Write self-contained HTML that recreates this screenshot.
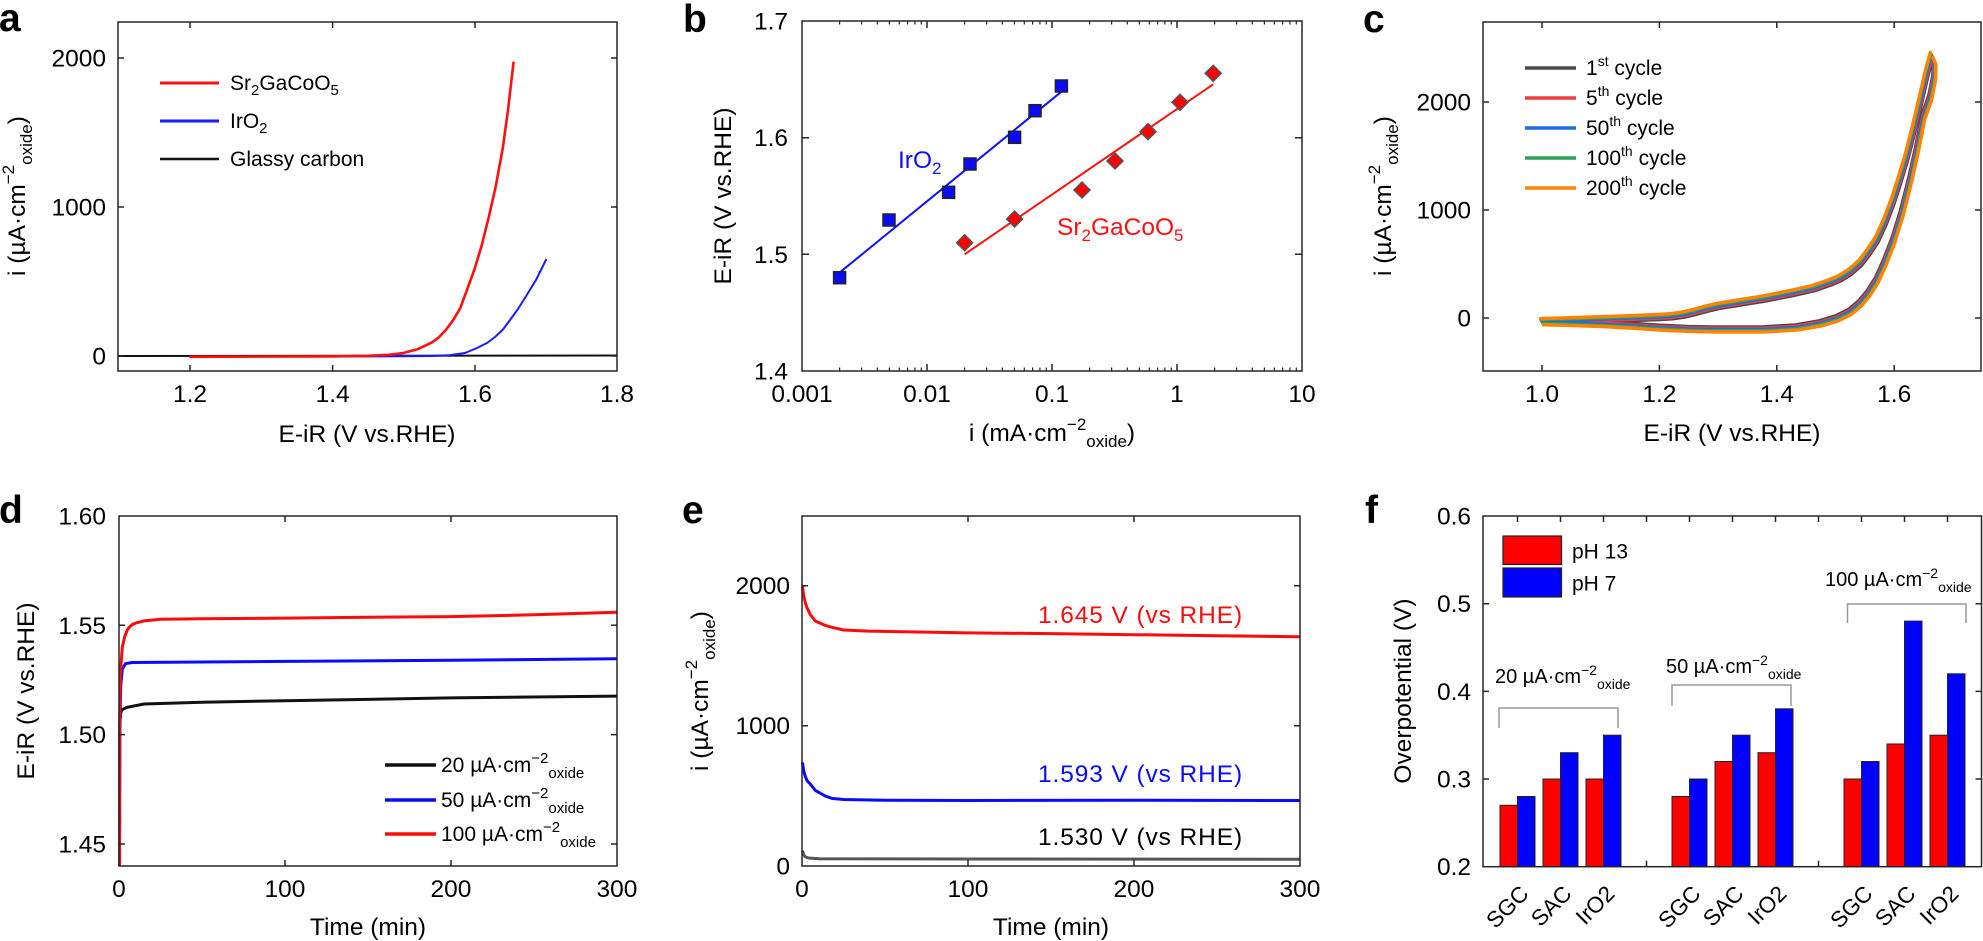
<!DOCTYPE html>
<html><head><meta charset="utf-8"><style>
html,body{margin:0;padding:0;background:#fff;}
svg{display:block;font-family:"Liberation Sans",Arial,sans-serif;}
</style></head><body>
<svg width="1983" height="941" viewBox="0 0 1983 941" xmlns="http://www.w3.org/2000/svg">
<rect width="1983" height="941" fill="#fff"/>
<defs>
<path id="an" fill="none" d="M1542 321.2 L1571.4 320.4 L1600.7 319.3 L1630.1 318.3 L1659.4 317.1 L1671.1 316.4 L1682.9 314.8 L1694.6 312.1 L1706.4 308.8 L1718.1 306.1 L1740 302.5 L1763.3 298.8 L1790 293.5 L1813.3 288.3 L1830 282.5 L1840 278.3 L1850 272 L1860 263.3 L1868 253 L1876.7 240 L1885 222 L1893.3 200 L1900 179 L1906.7 156.7 L1912 136 L1916.7 116.7 L1922 94 L1926.7 73.3 L1931.7 55"/>
<path id="ca" fill="none" d="M1931.7 55 L1934.5 62 L1934 78 L1930 98 L1923.3 116.7 L1916.7 150 L1910 180 L1901.7 213 L1893.3 240 L1885 261.7 L1876.7 280 L1868.3 293.3 L1860 303.3 L1850 311.7 L1836.7 318.3 L1820 323.3 L1796.7 327.3 L1763.3 329.3 L1713.3 329.3 L1688.8 328.8 L1659.4 327.5 L1630.1 325.5 L1600.7 323.9 L1571.4 322.9 L1542 322.1"/>
</defs>

<!-- panel letters -->
<g font-size="39" font-weight="bold" fill="#000">
<text x="-1" y="31">a</text>
<text x="683" y="32">b</text>
<text x="1363" y="32">c</text>
<text x="-1" y="523">d</text>
<text x="682" y="523">e</text>
<text x="1365" y="523">f</text>
</g>

<!-- ================= Panel a ================= -->
<g fill="none" stroke-linejoin="round">
<path d="M118 356 L617 355.5" stroke="#111" stroke-width="2"/>
<path d="M189 356.5 L400 356.3 L430 356 L449 355.2 L465 353 L477 348 L487 343 L495 337 L503 329.5 L510 320 L518 309 L525.5 297 L536 280 L546.4 259" stroke="#1a1aff" stroke-width="2"/>
<path d="M189.3 356.8 L332 356.4 L367.6 355.8 L388.9 354.8 L403.2 353 L417.4 349.3 L431.7 342.6 L438.8 337.4 L445.9 329.9 L453.1 320.2 L460.2 308.3 L467.3 289 L474.4 269.6 L481.6 245.7 L488.7 217.4 L495.8 186.1 L502.9 147.4 L508 110 L513.6 61.7" stroke="#ff1010" stroke-width="2.6"/>
</g>
<rect x="118" y="22" width="499" height="349" fill="none" stroke="#262626" stroke-width="1.5"/>
<path d="M190 371v-6 M332.6 371v-6 M475 371v-6 M190 22v6 M332.6 22v6 M475 22v6 M118 58h6 M118 207h6 M118 356h6 M617 58h-6 M617 207h-6 M617 356h-6" stroke="#262626" stroke-width="1.5"/>
<path d="M160 83h59" stroke="#ff1010" stroke-width="3"/>
<path d="M160 121h59" stroke="#1a1aff" stroke-width="3"/>
<path d="M160 159h59" stroke="#111" stroke-width="2.5"/>
<g font-size="21" fill="#000">
<text x="230" y="90">Sr<tspan font-size="15" dy="5">2</tspan><tspan dy="-5">GaCoO</tspan><tspan font-size="15" dy="5">5</tspan></text>
<text x="230" y="128">IrO<tspan font-size="15" dy="5">2</tspan></text>
<text x="230" y="166">Glassy carbon</text>
</g>
<g font-size="24.5" fill="#000">
<g text-anchor="end">
<text x="106" y="66.5">2000</text>
<text x="106" y="215.5">1000</text>
<text x="106" y="364.5">0</text>
</g>
<g text-anchor="middle">
<text x="190" y="402">1.2</text>
<text x="332.6" y="402">1.4</text>
<text x="475" y="402">1.6</text>
<text x="617" y="402">1.8</text>
<text x="367" y="442">E-iR (V vs.RHE)</text>
<text transform="translate(25,196) rotate(-90)">i (µA·cm<tspan font-size="17" dy="-11">−2</tspan><tspan font-size="17" dy="18">oxide</tspan><tspan dy="-7">)</tspan></text>
</g>
</g>

<!-- ================= Panel b ================= -->
<path d="M840.7 271.7 L1061.4 91.7" stroke="#1010ff" stroke-width="2"/>
<path d="M964.6 254.3 L1213.2 84.3" stroke="#ff1010" stroke-width="2"/>
<g fill="#0a0aff" stroke="#222" stroke-width="1.5">
<rect x="833.6" y="271.7" width="12" height="12"/>
<rect x="883" y="214" width="12" height="12"/>
<rect x="942.6" y="186.3" width="12" height="12"/>
<rect x="964" y="158" width="12" height="12"/>
<rect x="1008.6" y="131.3" width="12" height="12"/>
<rect x="1029" y="104.7" width="12" height="12"/>
<rect x="1055.4" y="80" width="12" height="12"/>
</g>
<g fill="#ff0000" stroke="#555" stroke-width="1.5">
<polygon points="964.6,234.7 972.6,242.7 964.6,250.7 956.6,242.7"/>
<polygon points="1014.6,211 1022.6,219 1014.6,227 1006.6,219"/>
<polygon points="1082,182 1090,190 1082,198 1074,190"/>
<polygon points="1115,153 1123,161 1115,169 1107,161"/>
<polygon points="1148,123.7 1156,131.7 1148,139.7 1140,131.7"/>
<polygon points="1180,94.3 1188,102.3 1180,110.3 1172,102.3"/>
<polygon points="1213.2,65.3 1221.2,73.3 1213.2,81.3 1205.2,73.3"/>
</g>
<rect x="802" y="21" width="500" height="350" fill="none" stroke="#262626" stroke-width="1.5"/>
<path d="M927 371v-7 M1052 371v-7 M1177 371v-7 M927 21v7 M1052 21v7 M1177 21v7 M802 137.7h7 M802 254.3h7 M1302 137.7h-7 M1302 254.3h-7" stroke="#262626" stroke-width="1.5"/>
<path stroke="#262626" stroke-width="1.2" d="M839.6 371v-3.5M861.6 371v-3.5M877.3 371v-3.5M889.4 371v-3.5M899.3 371v-3.5M907.6 371v-3.5M914.9 371v-3.5M921.3 371v-3.5M964.6 371v-3.5M986.6 371v-3.5M1002.3 371v-3.5M1014.4 371v-3.5M1024.3 371v-3.5M1032.6 371v-3.5M1039.9 371v-3.5M1046.3 371v-3.5M1089.6 371v-3.5M1111.6 371v-3.5M1127.3 371v-3.5M1139.4 371v-3.5M1149.3 371v-3.5M1157.6 371v-3.5M1164.9 371v-3.5M1171.3 371v-3.5M1214.6 371v-3.5M1236.6 371v-3.5M1252.3 371v-3.5M1264.4 371v-3.5M1274.3 371v-3.5M1282.6 371v-3.5M1289.9 371v-3.5M1296.3 371v-3.5 M839.6 21v3.5M861.6 21v3.5M877.3 21v3.5M889.4 21v3.5M899.3 21v3.5M907.6 21v3.5M914.9 21v3.5M921.3 21v3.5M964.6 21v3.5M986.6 21v3.5M1002.3 21v3.5M1014.4 21v3.5M1024.3 21v3.5M1032.6 21v3.5M1039.9 21v3.5M1046.3 21v3.5M1089.6 21v3.5M1111.6 21v3.5M1127.3 21v3.5M1139.4 21v3.5M1149.3 21v3.5M1157.6 21v3.5M1164.9 21v3.5M1171.3 21v3.5M1214.6 21v3.5M1236.6 21v3.5M1252.3 21v3.5M1264.4 21v3.5M1274.3 21v3.5M1282.6 21v3.5M1289.9 21v3.5M1296.3 21v3.5"/>
<g font-size="24.5">
<text x="898" y="168" fill="#1010ff">IrO<tspan font-size="17" dy="6">2</tspan></text>
<text x="1057" y="235" fill="#ff1010">Sr<tspan font-size="17" dy="6">2</tspan><tspan dy="-6">GaCoO</tspan><tspan font-size="17" dy="6">5</tspan></text>
<g text-anchor="end" fill="#000">
<text x="788" y="29.5">1.7</text>
<text x="788" y="146">1.6</text>
<text x="788" y="263">1.5</text>
<text x="788" y="379.5">1.4</text>
</g>
<g text-anchor="middle" fill="#000">
<text x="802" y="402">0.001</text>
<text x="927" y="402">0.01</text>
<text x="1052" y="402">0.1</text>
<text x="1177" y="402">1</text>
<text x="1302" y="402">10</text>
<text x="1052" y="441">i (mA·cm<tspan font-size="17" dy="-11">−2</tspan><tspan font-size="17" dy="17">oxide</tspan><tspan dy="-6">)</tspan></text>
<text transform="translate(731,196) rotate(-90)">E-iR (V vs.RHE)</text>
</g>
</g>

<!-- ================= Panel c ================= -->
<g fill="none" stroke-width="3" stroke-linejoin="round" stroke-linecap="round">
<use href="#an" stroke="#4a4a4a" transform="translate(1.4,2.6)"/>
<use href="#ca" stroke="#4a4a4a" transform="translate(-1.4,-2.6)"/>
<use href="#an" stroke="#ee3d40" transform="translate(0.7,1.3)"/>
<use href="#ca" stroke="#ee3d40" transform="translate(-0.7,-1.3)"/>
<use href="#an" stroke="#1f6be6"/>
<use href="#ca" stroke="#1f6be6"/>
<use href="#an" stroke="#2ca25c" transform="translate(-0.7,-1.3)"/>
<use href="#ca" stroke="#2ca25c" transform="translate(0.7,1.3)"/>
<use href="#an" stroke="#ff8300" stroke-width="3.5" transform="translate(-1.4,-2.6)"/>
<use href="#ca" stroke="#ff8300" stroke-width="3.5" transform="translate(1.4,2.6)"/>
</g>
<rect x="1483" y="22" width="498" height="349" fill="none" stroke="#262626" stroke-width="1.5"/>
<path d="M1542 371v-6 M1659.4 371v-6 M1776.8 371v-6 M1894.2 371v-6 M1542 22v6 M1659.4 22v6 M1776.8 22v6 M1894.2 22v6 M1483 102h6 M1483 210h6 M1483 318h6 M1981 102h-6 M1981 210h-6 M1981 318h-6" stroke="#262626" stroke-width="1.5"/>
<g stroke-width="3.5">
<path d="M1525 68h51" stroke="#4a4a4a"/>
<path d="M1525 98h51" stroke="#ee3d40"/>
<path d="M1525 128h51" stroke="#1f6be6"/>
<path d="M1525 158h51" stroke="#2ca25c"/>
<path d="M1525 188h51" stroke="#ff8300"/>
</g>
<g font-size="21" fill="#000">
<text x="1586" y="75">1<tspan font-size="14" dy="-9">st</tspan><tspan dy="9"> cycle</tspan></text>
<text x="1586" y="105">5<tspan font-size="14" dy="-9">th</tspan><tspan dy="9"> cycle</tspan></text>
<text x="1586" y="135">50<tspan font-size="14" dy="-9">th</tspan><tspan dy="9"> cycle</tspan></text>
<text x="1586" y="165">100<tspan font-size="14" dy="-9">th</tspan><tspan dy="9"> cycle</tspan></text>
<text x="1586" y="195">200<tspan font-size="14" dy="-9">th</tspan><tspan dy="9"> cycle</tspan></text>
</g>
<g font-size="24.5" fill="#000">
<g text-anchor="end">
<text x="1471" y="110.5">2000</text>
<text x="1471" y="218.5">1000</text>
<text x="1471" y="326.5">0</text>
</g>
<g text-anchor="middle">
<text x="1542" y="402">1.0</text>
<text x="1659.4" y="402">1.2</text>
<text x="1776.8" y="402">1.4</text>
<text x="1894.2" y="402">1.6</text>
<text x="1732" y="441">E-iR (V vs.RHE)</text>
<text transform="translate(1391,196) rotate(-90)">i (µA·cm<tspan font-size="17" dy="-11">−2</tspan><tspan font-size="17" dy="18">oxide</tspan><tspan dy="-7">)</tspan></text>
</g>
</g>

<!-- ================= Panel d ================= -->
<g fill="none" stroke-width="3" stroke-linejoin="round">
<path stroke="#111" d="M119.5 866 L119.8 723.7 L120.7 712.7 L122.3 709.5 L127.3 707.3 L143.9 704 L202 702.2 L285 700.7 L451 697.9 L617 696.1"/>
<path stroke="#0a0aff" d="M119.5 866 L119.8 734.6 L120.7 686.5 L122.3 669 L125.6 663.6 L132.3 662.5 L202 662 L285 661.4 L451 660.3 L617 658.7"/>
<path stroke="#ff0a0a" d="M119.5 866 L119.5 734.6 L120 700 L120.7 669 L122.3 647.2 L124.8 636.2 L127.3 630 L129 627.5 L132.3 624.5 L135.6 623.1 L143.9 620.9 L160.5 619.2 L202 618.7 L285 618.1 L368 617.2 L451 616.6 L534 614.8 L617 612.2"/>
</g>
<rect x="119" y="516" width="498" height="350" fill="none" stroke="#262626" stroke-width="1.5"/>
<path d="M285 866v-6 M451 866v-6 M285 516v6 M451 516v6 M119 625.3h6 M119 734.6h6 M119 844h6 M617 625.3h-6 M617 734.6h-6 M617 844h-6" stroke="#262626" stroke-width="1.5"/>
<g stroke-width="3.5">
<path d="M385 765h51" stroke="#111"/>
<path d="M385 800h51" stroke="#0a0aff"/>
<path d="M385 834h51" stroke="#ff0a0a"/>
</g>
<g font-size="21" fill="#000">
<text x="441" y="772">20 µA·cm<tspan font-size="15" dy="-9">−2</tspan><tspan font-size="15" dy="15">oxide</tspan></text>
<text x="441" y="807">50 µA·cm<tspan font-size="15" dy="-9">−2</tspan><tspan font-size="15" dy="15">oxide</tspan></text>
<text x="441" y="841">100 µA·cm<tspan font-size="15" dy="-9">−2</tspan><tspan font-size="15" dy="15">oxide</tspan></text>
</g>
<g font-size="24.5" fill="#000">
<g text-anchor="end">
<text x="106" y="524.5">1.60</text>
<text x="106" y="633.8">1.55</text>
<text x="106" y="743">1.50</text>
<text x="106" y="852.5">1.45</text>
</g>
<g text-anchor="middle">
<text x="119" y="897">0</text>
<text x="285" y="897">100</text>
<text x="451" y="897">200</text>
<text x="617" y="897">300</text>
<text x="368" y="935">Time (min)</text>
<text transform="translate(34,691) rotate(-90)">E-iR (V vs.RHE)</text>
</g>
</g>

<!-- ================= Panel e ================= -->
<g fill="none" stroke-width="3" stroke-linejoin="round">
<path stroke="#ff0a0a" d="M802.5 586 L803.7 595.8 L805.3 602.8 L807 607.7 L810.3 614.7 L815.3 621 L825.2 625.4 L831.9 627.3 L843.5 630 L868.4 631.1 L968 632.9 L1051 633.6 L1134 634.7 L1217 635.7 L1300 636.7"/>
<path stroke="#0a0aff" d="M802.5 762.4 L803.7 770.8 L805.3 776.4 L807 780.6 L810.3 784.1 L815.3 790.4 L825.2 796 L831.9 798.4 L843.5 799.5 L885 800.2 L968 800.5 L1134 800.2 L1300 800.5"/>
<path stroke="#555" d="M802.5 850.6 L803.7 854.8 L805.3 856.9 L808.6 858 L818.6 858.7 L968 859 L1300 859.3"/>
</g>
<rect x="802" y="516" width="498" height="350" fill="none" stroke="#262626" stroke-width="1.5"/>
<path d="M968 866v-6 M1134 866v-6 M968 516v6 M1134 516v6 M802 585.7h6 M802 725.7h6 M1300 585.7h-6 M1300 725.7h-6" stroke="#262626" stroke-width="1.5"/>
<g font-size="24.5">
<g letter-spacing="0.9">
<text x="1038" y="623" fill="#ff0a0a">1.645 V (vs RHE)</text>
<text x="1038" y="782" fill="#0a0aff">1.593 V (vs RHE)</text>
<text x="1038" y="845" fill="#000">1.530 V (vs RHE)</text>
</g>
<g text-anchor="end" fill="#000">
<text x="790" y="594">2000</text>
<text x="790" y="734">1000</text>
<text x="790" y="874.5">0</text>
</g>
<g text-anchor="middle" fill="#000">
<text x="802" y="897">0</text>
<text x="968" y="897">100</text>
<text x="1134" y="897">200</text>
<text x="1300" y="897">300</text>
<text x="1051" y="935">Time (min)</text>
<text transform="translate(708,691) rotate(-90)">i (µA·cm<tspan font-size="17" dy="-11">−2</tspan><tspan font-size="17" dy="18">oxide</tspan><tspan dy="-7">)</tspan></text>
</g>
</g>

<!-- ================= Panel f ================= -->
<path d="M1517.5 866.7v-6 M1560.5 866.7v-6 M1603.5 866.7v-6 M1646.5 866.7v-6 M1689.5 866.7v-6 M1732.5 866.7v-6 M1775.5 866.7v-6 M1818.5 866.7v-6 M1861.5 866.7v-6 M1904.5 866.7v-6 M1947.5 866.7v-6" stroke="#262626" stroke-width="1.5"/>
<g stroke="#222" stroke-width="1">
<g fill="#ff0000">
<rect x="1500" y="805.3" width="17.5" height="61.4"/>
<rect x="1543" y="779" width="17.5" height="87.7"/>
<rect x="1586" y="779" width="17.5" height="87.7"/>
<rect x="1672" y="796.5" width="17.5" height="70.2"/>
<rect x="1715" y="761.5" width="17.5" height="105.2"/>
<rect x="1758" y="752.7" width="17.5" height="114"/>
<rect x="1844" y="779" width="17.5" height="87.7"/>
<rect x="1887" y="744" width="17.5" height="122.7"/>
<rect x="1930" y="735.2" width="17.5" height="131.5"/>
</g>
<g fill="#0000ff">
<rect x="1517.5" y="796.5" width="17.5" height="70.2"/>
<rect x="1560.5" y="752.7" width="17.5" height="114"/>
<rect x="1603.5" y="735.2" width="17.5" height="131.5"/>
<rect x="1689.5" y="779" width="17.5" height="87.7"/>
<rect x="1732.5" y="735.2" width="17.5" height="131.5"/>
<rect x="1775.5" y="708.8" width="17.5" height="157.9"/>
<rect x="1861.5" y="761.5" width="17.5" height="105.2"/>
<rect x="1904.5" y="621.1" width="17.5" height="245.6"/>
<rect x="1947.5" y="673.8" width="17.5" height="192.9"/>
</g>
</g>
<rect x="1483" y="516" width="498.5" height="350.7" fill="none" stroke="#262626" stroke-width="1.5"/>
<path d="M1517.5 516v6 M1560.5 516v6 M1603.5 516v6 M1646.5 516v6 M1689.5 516v6 M1732.5 516v6 M1775.5 516v6 M1818.5 516v6 M1861.5 516v6 M1904.5 516v6 M1947.5 516v6 M1483 603.7h6 M1483 691.4h6 M1483 779h6 M1981.5 603.7h-6 M1981.5 691.4h-6 M1981.5 779h-6" stroke="#262626" stroke-width="1.5"/>
<g fill="none" stroke="#999" stroke-width="1.5">
<path d="M1499 728 V708 H1618 V728"/>
<path d="M1672 706 V685 H1791 V706"/>
<path d="M1847.5 623 V604 H1966 V623"/>
</g>
<rect x="1503" y="536" width="58.5" height="28.5" fill="#ff0000" stroke="#222" stroke-width="1.2"/>
<rect x="1503" y="568" width="58.5" height="29" fill="#0000ff" stroke="#222" stroke-width="1.2"/>
<g font-size="21" fill="#000">
<text x="1572" y="558.5">pH 13</text>
<text x="1572" y="590.5">pH 7</text>
</g>
<g font-size="20" fill="#000">
<text x="1495" y="683">20 µA·cm<tspan font-size="14" dy="-8">−2</tspan><tspan font-size="14" dy="14">oxide</tspan></text>
<text x="1666" y="673">50 µA·cm<tspan font-size="14" dy="-8">−2</tspan><tspan font-size="14" dy="14">oxide</tspan></text>
<text x="1825" y="586">100 µA·cm<tspan font-size="14" dy="-8">−2</tspan><tspan font-size="14" dy="14">oxide</tspan></text>
</g>
<g font-size="24.5" fill="#000">
<g text-anchor="end">
<text x="1471" y="524.5">0.6</text>
<text x="1471" y="612">0.5</text>
<text x="1471" y="700">0.4</text>
<text x="1471" y="787.5">0.3</text>
<text x="1471" y="875">0.2</text>
</g>
<text text-anchor="middle" transform="translate(1411,691) rotate(-90)">Overpotential (V)</text>
</g>
<g font-size="22.5" fill="#000" text-anchor="end">
<text transform="translate(1530,895) rotate(-45)">SGC</text>
<text transform="translate(1573,895) rotate(-45)">SAC</text>
<text transform="translate(1616,895) rotate(-45)">IrO2</text>
<text transform="translate(1702,895) rotate(-45)">SGC</text>
<text transform="translate(1745,895) rotate(-45)">SAC</text>
<text transform="translate(1788,895) rotate(-45)">IrO2</text>
<text transform="translate(1874,895) rotate(-45)">SGC</text>
<text transform="translate(1917,895) rotate(-45)">SAC</text>
<text transform="translate(1960,895) rotate(-45)">IrO2</text>
</g>
</svg>
</body></html>
